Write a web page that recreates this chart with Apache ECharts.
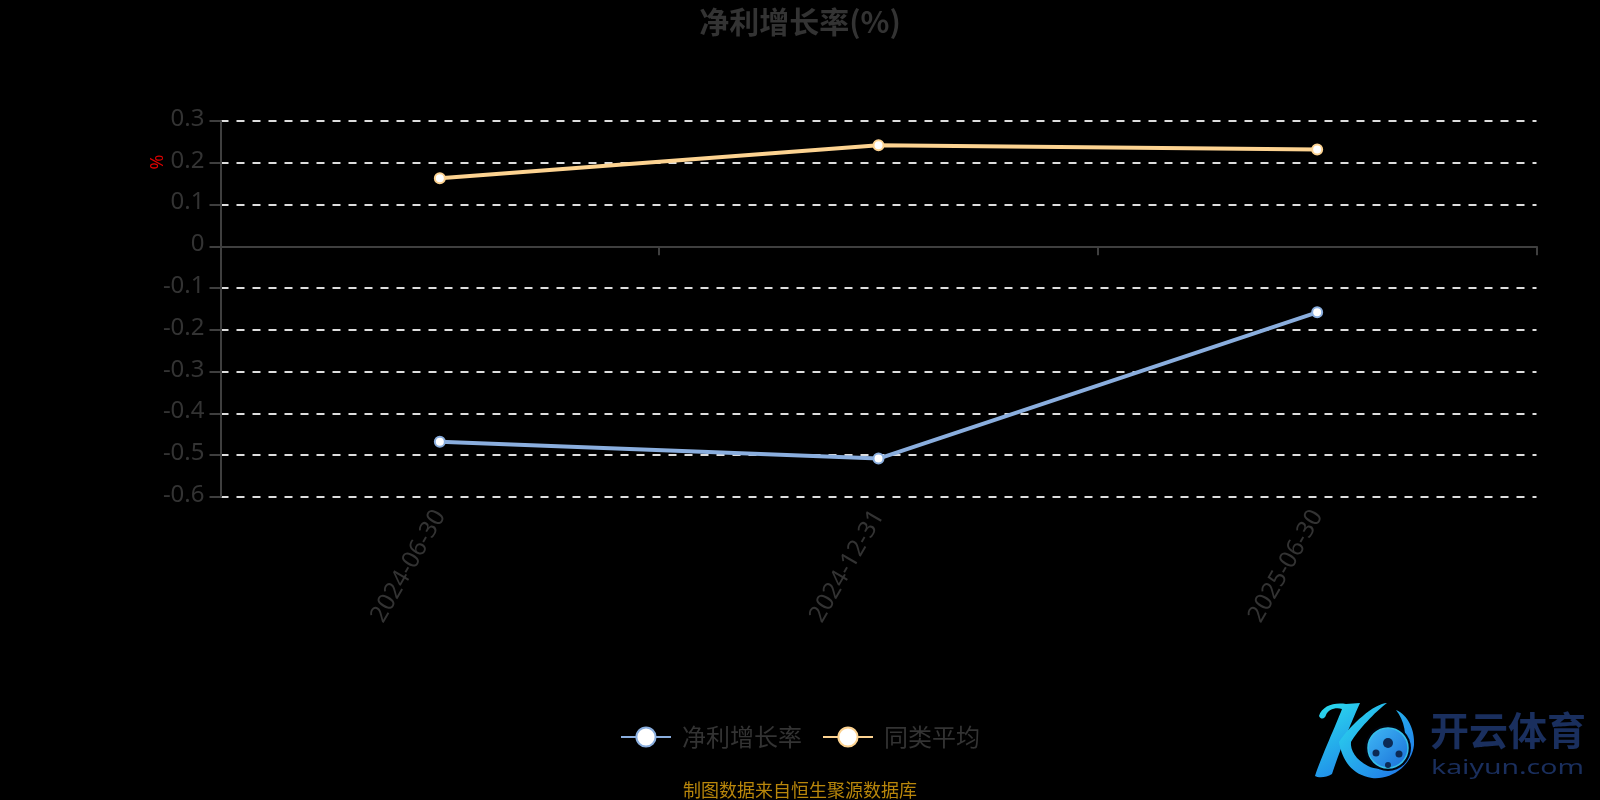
<!DOCTYPE html>
<html><head><meta charset="utf-8">
<style>html,body{margin:0;padding:0;background:#000}#c{width:1600px;height:800px}</style>
<script src="https://cdn.jsdelivr.net/npm/echarts@6/dist/echarts.min.js"></script>
</head><body><div id="c"></div>
<script>
const categories = ['2024-06-30','2024-12-31','2025-06-30'];
const netGrowth = [-0.468,-0.508,-0.158];
const peerAverage = [0.163,0.242,0.232];
const yTicks = {min:-0.6,max:0.3,interval:0.1};
const FONT = '"Noto Sans","Open Sans",sans-serif';
const CJK = '"Noto Sans CJK SC","Noto Sans",sans-serif';
const BLUE='#8aaede', ORANGE='#fdd391', DIM='#333';
function series(name,data,color){
  return {name,type:'line',data,symbol:'circle',symbolSize:10,showSymbol:true,
    lineStyle:{color,width:4},
    itemStyle:{color:'#fff',borderColor:color,borderWidth:2},
    z:3,animation:false};
}
const grad=(a,b)=>new echarts.graphic.LinearGradient(0,0,1,1,[{offset:0,color:a},{offset:1,color:b}]);
echarts.graphic.registerShape('logoStem',echarts.graphic.extendShape({buildPath(c){
  c.moveTo(1319,716);c.bezierCurveTo(1322,706,1334,702,1346,704);c.lineTo(1360,703);
  c.bezierCurveTo(1350,725,1338,755,1332,774);c.bezierCurveTo(1326,778,1318,778,1315,776);
  c.bezierCurveTo(1322,755,1336,725,1342,709);c.bezierCurveTo(1335,707,1328,710,1326,715);
  c.bezierCurveTo(1325,719,1321,720,1319,716);c.closePath();}}));
echarts.graphic.registerShape('logoArm',echarts.graphic.extendShape({buildPath(c){
  c.moveTo(1387,703);c.bezierCurveTo(1375,703,1350,725,1339,742);c.bezierCurveTo(1342,760,1352,775,1372,778);
  c.bezierCurveTo(1392,780,1412,765,1414,745);c.bezierCurveTo(1415,730,1408,715,1396,710);
  c.bezierCurveTo(1404,720,1408,735,1403,752);c.bezierCurveTo(1398,768,1380,772,1368,766);
  c.bezierCurveTo(1356,760,1350,750,1351,742);c.bezierCurveTo(1358,730,1375,712,1387,703);c.closePath();}}));
const chart = echarts.init(document.getElementById('c'),null,{renderer:'canvas'});
chart.setOption({
  backgroundColor:'#000',
  animation:false,
  title:{text:'净利增长率(%)',left:'center',top:2,
    textStyle:{color:DIM,fontSize:30,fontWeight:'bold',fontFamily:CJK}},
  grid:{left:220.5,right:63.5,top:121,bottom:303,outerBoundsMode:'none'},
  legend:{top:720,left:'center',itemWidth:50,itemHeight:24,itemGap:20,
    data:['净利增长率','同类平均'],
    textStyle:{color:DIM,fontSize:24,fontFamily:CJK,padding:[0,0,0,6]}},
  xAxis:{type:'category',data:categories,boundaryGap:true,
    axisLine:{onZero:true,lineStyle:{color:'#3f3f3f',width:2}},
    axisTick:{show:true,length:9,lineStyle:{color:'#3f3f3f',width:2}},
    axisLabel:{rotate:60,margin:15,color:DIM,fontSize:24,fontFamily:FONT},
    splitLine:{show:false}},
  yAxis:{type:'value',min:yTicks.min,max:yTicks.max,interval:yTicks.interval,
    axisLine:{show:true,lineStyle:{color:'#3f3f3f',width:2}},
    axisTick:{show:true,length:11,lineStyle:{color:'#3f3f3f',width:2}},
    axisLabel:{color:DIM,fontSize:24,fontFamily:FONT,margin:16,
      rich:{a:{color:DIM,fontSize:24,fontFamily:FONT,padding:[0,0,4,0]}},
      formatter:v=>'{a|'+String(Math.round(v*10)/10)+'}'},
    splitLine:{show:true,lineStyle:{color:'#ddd',type:[8,8],width:2}}},
  series:[series('净利增长率',netGrowth,BLUE),series('同类平均',peerAverage,ORANGE)],
  graphic:[
    {type:'text',x:158,y:162,rotation:Math.PI/2,
     style:{text:'%',fill:'#e00000',font:'18px '+FONT,textAlign:'center',textVerticalAlign:'middle'}},
    {type:'text',left:'center',top:781,
     style:{text:'制图数据来自恒生聚源数据库',fill:'#b8860b',font:'18px '+CJK}},
    {type:'text',x:1430,y:730,style:{text:'开云体育',fill:'#1a2f5e',font:'bold 39px '+CJK,textAlign:'left',textVerticalAlign:'middle'}},
    {type:'text',x:1431,y:768,scaleX:1.42,style:{text:'kaiyun.com',fill:'#1a2f5e',font:'20px '+FONT,textAlign:'left',textVerticalAlign:'middle'}},
    {type:'logoStem',shape:{},style:{fill:grad('#2be0ee','#1f7fe8')}},
    {type:'logoArm',shape:{},style:{fill:grad('#2be0ee','#1f6de8')}},
    {type:'circle',shape:{cx:1388,cy:748,r:23},style:{fill:'#000510'}},
    {type:'circle',shape:{cx:1388,cy:748,r:20},style:{fill:grad('#3fb8f5','#1a6fd8')}},
    {type:'circle',shape:{cx:1388,cy:748,r:20},style:{fill:'none',stroke:'#35c0e8',lineWidth:1.5}},
    {type:'circle',shape:{cx:1388,cy:743,r:5},style:{fill:'#0c2a55'}},
    {type:'circle',shape:{cx:1376,cy:753,r:3.5},style:{fill:'#0c2a55'}},
    {type:'circle',shape:{cx:1399,cy:754,r:3.5},style:{fill:'#0c2a55'}},
    {type:'circle',shape:{cx:1388,cy:765,r:3},style:{fill:'#0c2a55'}}
  ]
});
</script></body></html>
